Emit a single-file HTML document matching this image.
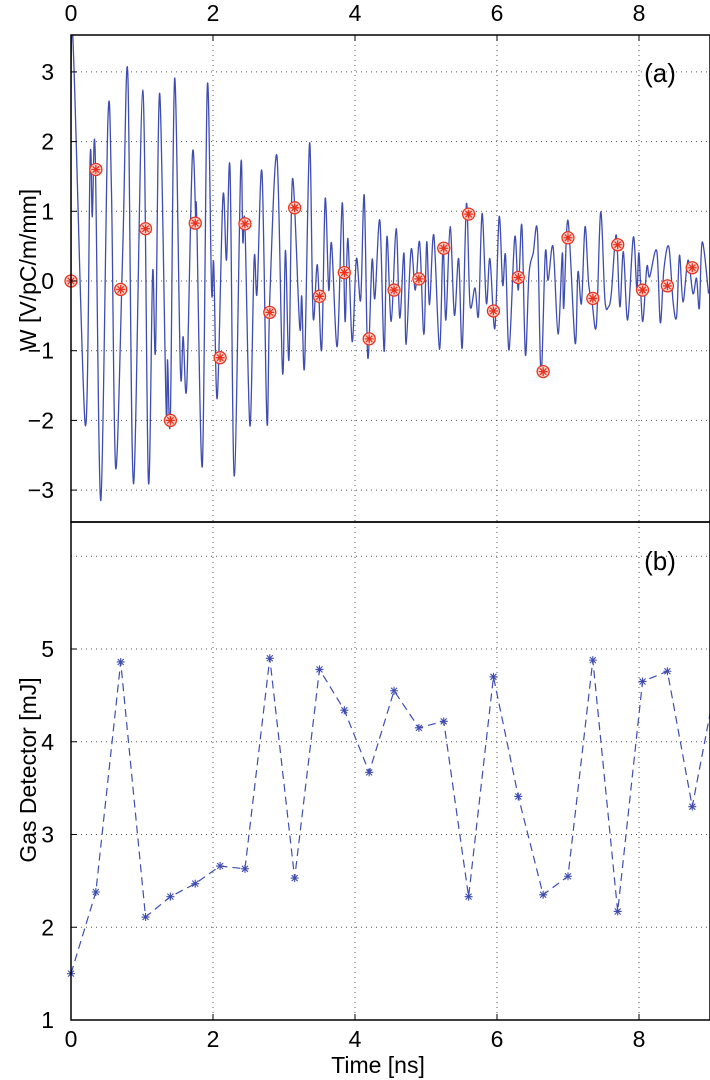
<!DOCTYPE html>
<html><head><meta charset="utf-8"><style>
body{margin:0;background:#fff}
svg{display:block;font-family:"Liberation Sans",sans-serif}
</style></head><body>
<svg id="c" width="710" height="1080">
<rect width="710" height="1080" fill="#fff"/>
</svg>
<script>
const waveT=[0,0.02,0.2,0.27,0.30,0.34,0.42,0.52,0.57,0.63,0.73,0.80,0.88,1.01,1.09,1.15,1.19,1.25,1.34,1.36,1.40,1.46,1.54,1.58,1.63,1.71,1.76,1.77,1.85,1.92,1.98,2.01,2.06,2.14,2.19,2.24,2.30,2.39,2.42,2.45,2.52,2.58,2.62,2.69,2.76,2.80,2.90,2.98,3.02,3.07,3.12,3.22,3.25,3.29,3.36,3.41,3.47,3.53,3.58,3.63,3.67,3.75,3.82,3.86,3.90,3.96,4.02,4.08,4.13,4.18,4.24,4.28,4.35,4.41,4.45,4.51,4.58,4.63,4.69,4.72,4.79,4.85,4.91,4.97,5.01,5.05,5.11,5.19,5.24,5.28,5.34,5.40,5.46,5.51,5.57,5.62,5.69,5.74,5.79,5.85,5.90,5.97,6.03,6.08,6.12,6.17,6.25,6.30,6.35,6.40,6.45,6.51,6.57,6.62,6.68,6.72,6.79,6.86,6.92,6.94,7.0,7.10,7.14,7.19,7.24,7.29,7.34,7.40,7.46,7.52,7.57,7.61,7.68,7.73,7.78,7.84,7.92,7.97,8.00,8.05,8.11,8.15,8.25,8.30,8.35,8.42,8.48,8.53,8.57,8.62,8.69,8.76,8.81,8.85,8.89,8.98];
const waveV=[0,3.6,-2.06,1.78,0.92,1.87,-3.15,2.31,1.3,-2.69,0.49,2.98,-2.91,2.74,-2.87,0.13,-0.99,2.69,-1.84,-1.13,-1.94,2.91,-1.25,-0.8,-1.51,1.81,0.78,0.94,-2.65,2.8,-0.13,0.25,-1.68,1.21,0.3,1.6,-2.8,1.61,0.56,0.8,-2.08,0.32,-0.18,1.56,-2.03,-0.25,1.8,-1.32,0.44,-1.13,1.47,-0.65,-0.22,-1.21,1.98,-0.51,0.23,-0.99,1.18,-0.13,0.54,-0.94,1.12,-0.58,0.61,-0.87,0.32,-0.27,1.23,-1.1,0.3,-0.25,0.87,-1.01,0.64,-0.58,0.75,-0.53,0.4,-0.91,0.45,-0.13,0.56,-0.77,0.56,-0.34,0.66,-0.98,0.49,-0.56,0.78,-0.49,0.32,-0.96,1.11,-0.34,-0.1,-0.49,0.97,-0.32,0.32,-0.68,0.92,-0.06,0.37,-0.99,0.63,-0.13,0.8,-1.06,0.09,0.4,0.7,-1.34,0.4,0.01,0.49,-0.76,0.4,-0.39,0.87,-0.89,0.13,-0.32,0.78,-0.03,-0.32,-0.63,0.99,-0.27,-0.37,-0.18,0.66,-0.37,0.42,-0.56,0.63,-0.13,0.4,-0.58,0.2,0.06,0.43,-0.6,0.16,0.49,-0.3,-0.51,0.37,-0.3,0.3,-0.18,0.04,-0.39,0.56,-0.18];
const sampleT=[0,0.35,0.7,1.05,1.4,1.75,2.1,2.45,2.8,3.15,3.5,3.85,4.2,4.55,4.9,5.25,5.6,5.95,6.3,6.65,7.0,7.35,7.7,8.05,8.4,8.75,9.1];
const sampleW=[0,1.6,-0.12,0.75,-2.0,0.83,-1.1,0.82,-0.45,1.05,-0.22,0.12,-0.83,-0.13,0.03,0.47,0.96,-0.43,0.05,-1.3,0.62,-0.25,0.52,-0.13,-0.07,0.19];
const gasE=[1.5,2.38,4.86,2.11,2.33,2.47,2.66,2.63,4.9,2.53,4.78,4.34,3.67,4.55,4.15,4.22,2.33,4.7,3.41,2.35,2.55,4.88,2.17,4.65,4.76,3.3,4.7];
const xTicks=[0,2,4,6,8];
const yTicksA=[-3,-2,-1,0,1,2,3];
const yTicksB=[1,2,3,4,5];

const NS="http://www.w3.org/2000/svg";
const svg=document.getElementById('c');
const L=71,R=710,TA=35,BA=522,TB=522,BB=1020;
const xs=t=>L+t*71;
const ya=v=>281-69.7*v;
const yb=v=>1020-92.75*(v-1);
function mk(tag,attrs,parent){const e=document.createElementNS(NS,tag);for(const k in attrs)e.setAttribute(k,attrs[k]);(parent||svg).appendChild(e);return e;}
const defs=mk('defs',{});
const cp=mk('clipPath',{id:'ca'},defs);mk('rect',{x:L,y:TA,width:R-L,height:BA-TA},cp);
const cp2=mk('clipPath',{id:'cb'},defs);mk('rect',{x:L,y:TB,width:R-L,height:BB-TB},cp2);

const grid=mk('g',{stroke:'#555','stroke-width':1,'stroke-dasharray':'1,4'});


xTicks.slice(1).forEach(t=>{mk('line',{x1:xs(t),x2:xs(t),y1:TA,y2:BA},grid);mk('line',{x1:xs(t),x2:xs(t),y1:TB,y2:BB},grid);});
yTicksA.forEach(v=>mk('line',{x1:L,x2:R,y1:ya(v),y2:ya(v)},grid));
[2,3,4,5,6].forEach(v=>mk('line',{x1:L,x2:R,y1:yb(v),y2:yb(v)},grid));

let d='';
const P=waveT.map((t,i)=>[xs(t),ya(waveV[i])]);
d='M'+P[0][0]+','+P[0][1];
for(let i=0;i<P.length-1;i++){const p0=P[Math.max(0,i-1)],p1=P[i],p2=P[i+1],p3=P[Math.min(P.length-1,i+2)];
d+=` C${p1[0]+(p2[0]-p0[0])/6},${p1[1]+(p2[1]-p0[1])/6} ${p2[0]-(p3[0]-p1[0])/6},${p2[1]-(p3[1]-p1[1])/6} ${p2[0]},${p2[1]}`;}
const wl=mk('path',{d:d,fill:'none',stroke:'#3f4db0','stroke-width':1.3,'clip-path':'url(#ca)'});



sampleW.forEach((v,i)=>{const x=xs(sampleT[i]),y=ya(v);
const g=mk('g',{stroke:'#e8321e','stroke-width':1.3,fill:'none'});


mk('circle',{cx:x,cy:y,r:6,fill:'#fbd5cf'},g);
mk('path',{d:`M${x-4.5},${y}H${x+4.5}M${x},${y-4.5}V${y+4.5}M${x-3.2},${y-3.2}L${x+3.2},${y+3.2}M${x-3.2},${y+3.2}L${x+3.2},${y-3.2}`},g);});

const gp=gasE.map((v,i)=>xs(sampleT[i])+','+yb(v)).join(' ');
const gl=mk('polyline',{points:gp,fill:'none',stroke:'#3f4db0','stroke-width':1.2,'stroke-dasharray':'8,5','clip-path':'url(#cb)'});


gasE.forEach((v,i)=>{if(sampleT[i]>9)return;const x=xs(sampleT[i]),y=yb(v);
const s=mk('path',{d:`M${x-4},${y}H${x+4}M${x},${y-4}V${y+4}M${x-3},${y-3}L${x+3},${y+3}M${x-3},${y+3}L${x+3},${y-3}`,stroke:'#3f4db0','stroke-width':1.1});

});

const fr=mk('g',{fill:'none',stroke:'#000','stroke-width':1.5});


mk('rect',{x:L,y:TA,width:R-L,height:BA-TA},fr);
mk('rect',{x:L,y:TB,width:R-L,height:BB-TB},fr);

function txt(s,x,y,anchor,name,size){const e=mk('text',{x:x,y:y,'text-anchor':anchor,'font-size':size||23,fill:'#000'});e.textContent=s;

return e;}
xTicks.forEach(t=>{txt(String(t),xs(t),21,'middle','top-x-tick-label');txt(String(t),xs(t),1047,'middle','x-tick-label');
mk('line',{x1:xs(t),x2:xs(t),y1:BB,y2:BB-6,stroke:'#000'});mk('line',{x1:xs(t),x2:xs(t),y1:TA,y2:TA+6,stroke:'#000'});});
yTicksA.forEach(v=>{txt(v<0?'\u2212'+(-v):String(v),54,ya(v)+8,'end','top-y-tick-label');mk('line',{x1:L,x2:L+6,y1:ya(v),y2:ya(v),stroke:'#000'});});
yTicksB.forEach(v=>{txt(String(v),54,yb(v)+8,'end','bottom-y-tick-label');mk('line',{x1:L,x2:L+6,y1:yb(v),y2:yb(v),stroke:'#000'});});
txt('(a)',660,82,'middle','panel-a-label',26);
txt('(b)',660,570,'middle','panel-b-label',26);
txt('Time [ns]',378,1073,'middle','x-axis-title',23);
const ta=txt('W   [V/pC/m/mm]',0,0,'middle','top-y-axis-title',23);ta.setAttribute('transform','translate(36,270) rotate(-90)');
const tb=txt('Gas Detector [mJ]',0,0,'middle','bottom-y-axis-title',23);tb.setAttribute('transform','translate(36,770) rotate(-90)');
</script>
</body></html>
